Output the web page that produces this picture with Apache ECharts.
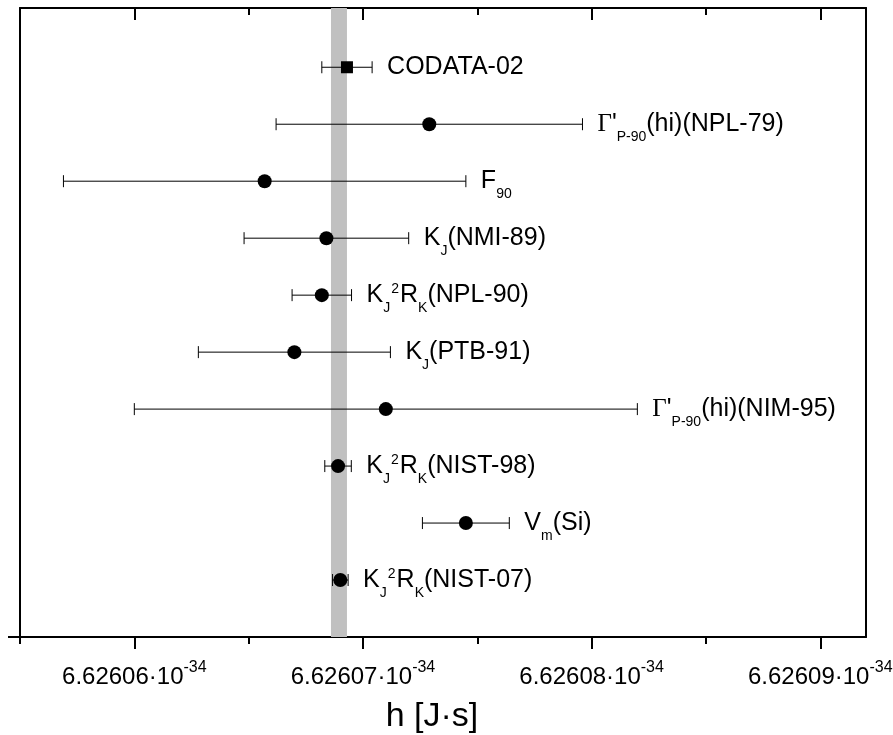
<!DOCTYPE html>
<html>
<head>
<meta charset="utf-8">
<title>Planck constant determinations</title>
<script src="https://cdn.jsdelivr.net/npm/echarts@6/dist/echarts.min.js"></script>
<style>
  html, body { margin: 0; padding: 0; background: #fff; }
  #chart { width: 893px; height: 735px; }
</style>
</head>
<body>
<div id="chart"></div>
<script>
// measurements of h, in units of 1e-34 J s
const labels = [
  '{n|CODATA-02}',
  "{g|Γ}{n|'}{sub|P-90}{n|(hi)(NPL-79)}",
  '{n|F}{sub|90}',
  '{n|K}{sub|J}{n|(NMI-89)}',
  '{n|K}{sub|J}{sup|2}{n|R}{sub|K}{n|(NPL-90)}',
  '{n|K}{sub|J}{n|(PTB-91)}',
  "{g|Γ}{n|'}{sub|P-90}{n|(hi)(NIM-95)}",
  '{n|K}{sub|J}{sup|2}{n|R}{sub|K}{n|(NIST-98)}',
  '{n|V}{sub|m}{n|(Si)}',
  '{n|K}{sub|J}{sup|2}{n|R}{sub|K}{n|(NIST-07)}'
]
const values = [6.6260693, 6.6260729, 6.6260657, 6.6260684, 6.6260682, 6.6260670, 6.6260710, 6.62606891, 6.6260745, 6.62606901]
const errors = [0.0000011, 0.0000067, 0.0000088, 0.0000036, 0.0000013, 0.0000042, 0.0000110, 0.00000058, 0.0000019, 0.00000034]
const rows = [10, 9, 8, 7, 6, 5, 4, 3, 2, 1]
// CODATA-06 band
const band = [6.6260686, 6.6260693]
const majorTicks = [6.62606, 6.62607, 6.62608, 6.62609]
const minorTicks = [6.626055, 6.626065, 6.626075, 6.626085]

const FONT = '"Liberation Sans", Arial, sans-serif'
const chart = echarts.init(document.getElementById('chart'))

const labelRich = {
  n: { font: '25px ' + FONT },
  g: { font: '25px "Liberation Serif", serif' },
  sub: { font: '14px ' + FONT, padding: [26, 0, 0, 0] },
  sup: { font: '14px ' + FONT, padding: [0, 1, 12, 1] }
}

const xMin = 6.626055
const xMax = 6.626092

const baseX = {
  type: 'value',
  min: xMin,
  max: xMax,
  splitLine: { show: false },
  axisLabel: { show: false },
  axisLine: { show: false }
}

const option = {
  animation: false,
  grid: { left: 20, right: 27, top: 8, bottom: 98, containLabel: false, outerBoundsMode: 'none' },
  xAxis: [
    Object.assign({}, baseX, {
      position: 'bottom',
      name: 'h [J·s]',
      nameLocation: 'middle',
      nameGap: 63,
      nameTextStyle: { fontSize: 34, fontFamily: FONT, color: '#000', padding: [0, 22, 0, 0] },
      axisLine: { show: true, lineStyle: { color: '#000', width: 2 } },
      axisTick: { customValues: majorTicks, length: 12, lineStyle: { color: '#000', width: 2 } },
      axisLabel: {
        show: true,
        customValues: majorTicks,
        margin: 23,
        color: '#000',
        formatter: v => '{m|' + v.toFixed(5) + '·10}{s|-34}',
        rich: {
          m: { fontSize: 24, fontFamily: FONT, color: '#000' },
          s: { fontSize: 16, fontFamily: FONT, color: '#000', padding: [0, 0, 18, 0] }
        }
      }
    }),
    Object.assign({}, baseX, {
      position: 'bottom',
      axisTick: { customValues: minorTicks, length: 7, lineStyle: { color: '#000', width: 2 } }
    }),
    Object.assign({}, baseX, {
      position: 'top',
      axisLine: { show: true, lineStyle: { color: '#000', width: 2 } },
      axisTick: { inside: true, customValues: majorTicks, length: 12, lineStyle: { color: '#000', width: 2 } }
    }),
    Object.assign({}, baseX, {
      position: 'top',
      axisTick: { inside: true, customValues: minorTicks, length: 7, lineStyle: { color: '#000', width: 2 } }
    })
  ],
  yAxis: [
    {
      type: 'value', min: 0, max: 11.04, position: 'left',
      splitLine: { show: false },
      axisLabel: { show: false },
      axisLine: { show: true, lineStyle: { color: '#000', width: 2 } },
      axisTick: { customValues: [0], length: 12, lineStyle: { color: '#000', width: 2 } }
    },
    {
      type: 'value', min: 0, max: 11.04, position: 'right',
      splitLine: { show: false },
      axisLabel: { show: false },
      axisTick: { show: false },
      axisLine: { show: true, lineStyle: { color: '#000', width: 2 } }
    }
  ],
  series: [
    {
      // grey band
      type: 'scatter',
      data: [],
      z: 1,
      markArea: {
        silent: true,
        itemStyle: { color: '#c0c0c0', opacity: 1 },
        data: [[{ xAxis: band[0] }, { xAxis: band[1] }]]
      }
    },
    {
      type: 'custom',
      z: 2,
      data: values.map((v, i) => [v, errors[i], rows[i]]),
      encode: { x: 0, y: 2 },
      renderItem: (params, api) => {
        const x = api.value(0), e = api.value(1), y = api.value(2)
        const l = api.coord([x - e, y])
        const r = api.coord([x + e, y])
        const cap = 6
        const ls = { stroke: '#000', lineWidth: 1 }
        return {
          type: 'group',
          children: [
            { type: 'line', shape: { x1: l[0], y1: l[1], x2: r[0], y2: r[1] }, style: ls },
            { type: 'line', shape: { x1: l[0], y1: l[1] - cap, x2: l[0], y2: l[1] + cap }, style: ls },
            { type: 'line', shape: { x1: r[0], y1: r[1] - cap, x2: r[0], y2: r[1] + cap }, style: ls },
            {
              type: 'text',
              x: Math.max(r[0], api.coord([x, y])[0] + 7) + 15,
              y: r[1],
              style: {
                text: labels[params.dataIndex],
                rich: labelRich,
                font: '25px ' + FONT,
                fill: '#000',
                align: 'left',
                verticalAlign: 'middle'
              }
            }
          ]
        }
      }
    },
    {
      type: 'scatter',
      z: 3,
      data: values.map((v, i) => [v, rows[i]]),
      symbol: (val, params) => params.dataIndex === 0 ? 'rect' : 'circle',
      symbolSize: (val, params) => params.dataIndex === 0 ? 12 : 14,
      itemStyle: { color: '#000', opacity: 1 }
    }
  ]
}

chart.setOption(option)
</script>
</body>
</html>
